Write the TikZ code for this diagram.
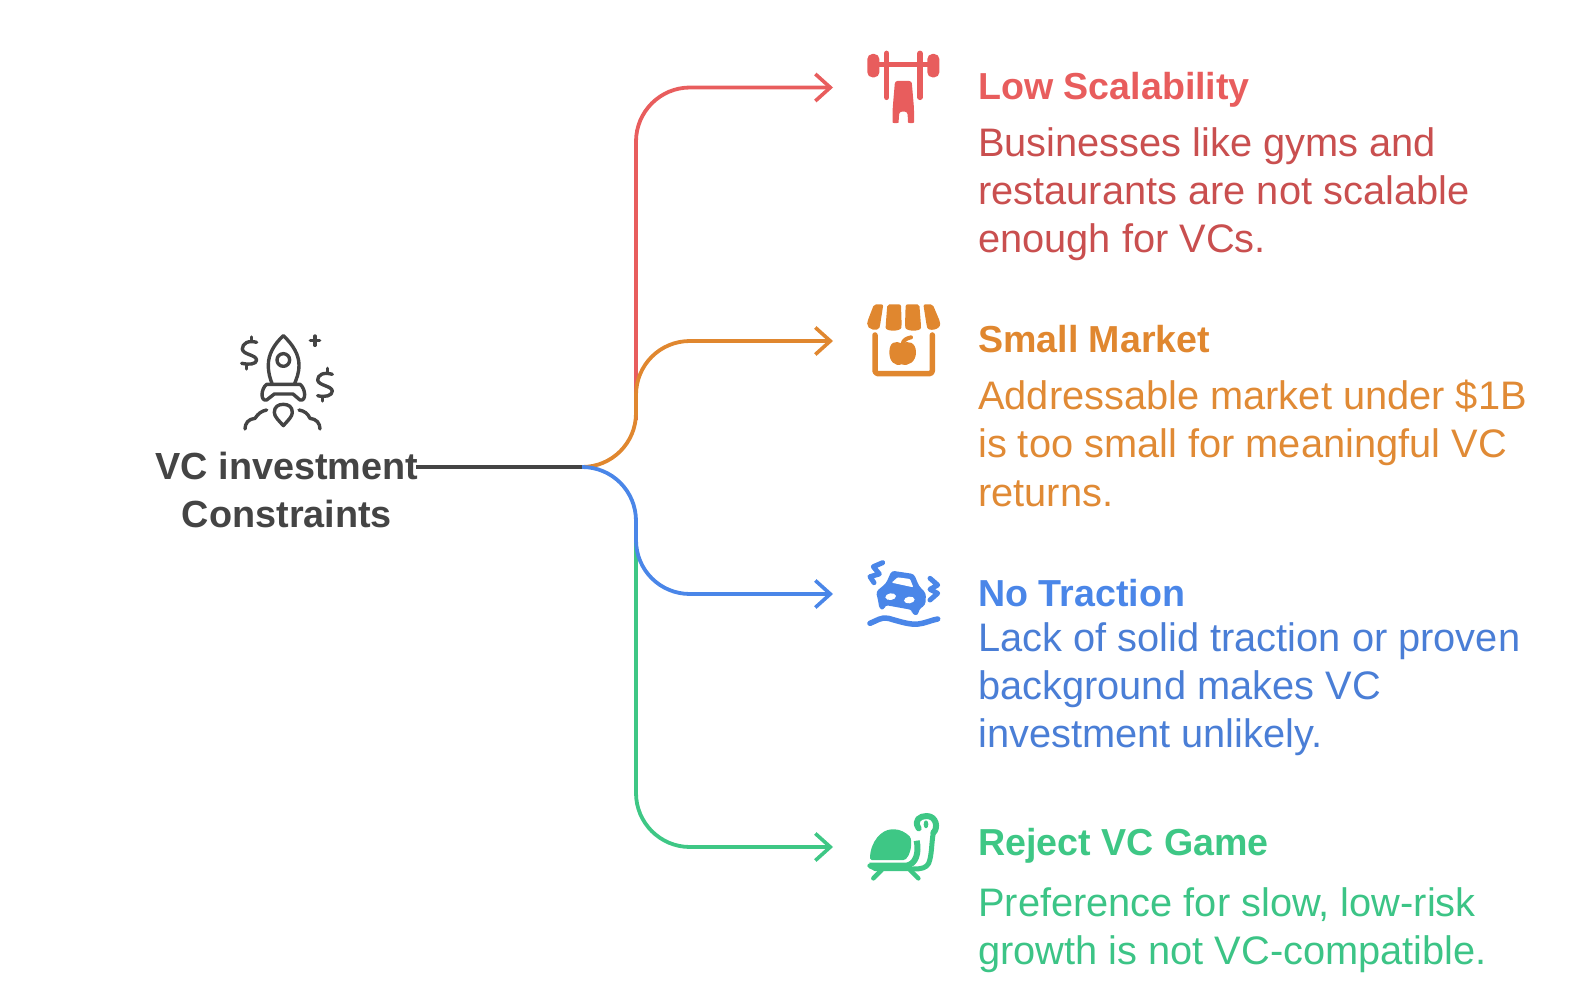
\documentclass[tikz,border=0pt]{standalone}
\usepackage{fontspec}
\setmainfont{Liberation Sans}
\usetikzlibrary{arrows.meta,calc}
\definecolor{cred}{HTML}{E85D5D}\definecolor{credd}{HTML}{C94F4F}
\definecolor{corg}{HTML}{E0872F}\definecolor{corgd}{HTML}{E08A35}
\definecolor{cblu}{HTML}{4A86E8}\definecolor{cblud}{HTML}{4A7ED6}
\definecolor{cgrn}{HTML}{3EC785}\definecolor{cgrnd}{HTML}{3CC486}
\definecolor{cdark}{HTML}{444444}
\newcommand{\tf}{\fontsize{37.6}{46}\selectfont\bfseries}
\newcommand{\df}{\fontsize{39.8}{48.2}\selectfont}
\tikzset{
 conn/.style={line width=3.8pt,rounded corners=54pt},
 tipped/.style={-{Straight Barb[length=15pt,width=27pt,line width=3.6pt]}},
 ttl/.style={anchor=base west,inner sep=0pt,font=\tf},
 dsc/.style={anchor=north west,inner sep=0pt,align=left,font=\df},
 ic/.style={line cap=round,line join=round},
 zoomA/.style={x=0.3333pt,y=-0.3333pt}
}
\begin{document}
\begin{tikzpicture}[x=1pt,y=-1pt]
\useasboundingbox (0,0) rectangle (1578,984);
% nodes
\node[align=center,inner sep=0pt,text=cdark,font=\fontsize{37.8}{48.5}\selectfont\bfseries,anchor=center] (root) at (287,490) {VC investment\\Constraints};
\coordinate (rs) at (416,467);
\coordinate (j) at (582,467);
\coordinate (e1) at (833,87.5);
\coordinate (e2) at (833,341);
\coordinate (e3) at (833,594);
\coordinate (e4) at (833,847);
\draw[cred,conn,tipped] (636,420) -- (636,87.5) -- (e1);
\draw[cgrn,conn,tipped] (636,530) -- (636,847) -- (e4);
\draw[corg,line width=3.8pt,tipped] (j) .. controls (612,467) and (636,443) .. (636,413) -- (636,395) .. controls (636,365) and (660,341) .. (690,341) -- (e2);
\draw[cblu,line width=3.8pt,tipped] (j) .. controls (612,467) and (636,491) .. (636,521) -- (636,540) .. controls (636,570) and (660,594) .. (690,594) -- (e3);
\draw[cdark,line width=3.8pt] (rs) -- (j);
% text
\node[ttl,text=cred] (t1) at (978,100) {Low Scalability};
\node[dsc,text=credd] (d1) at (978,127) {Businesses like gyms and\\restaurants are not scalable\\enough for VCs.};
\node[ttl,text=corg] (t2) at (978,352) {Small Market};
\node[dsc,text=corgd] (d2) at (978,380) {Addressable market under \$1B\\is too small for meaningful VC\\returns.};
\node[ttl,text=cblu] (t3) at (978,606) {No Traction};
\node[dsc,text=cblud] (d3) at (978,622) {Lack of solid traction or proven\\background makes VC\\investment unlikely.};
\node[ttl,text=cgrn] (t4) at (978,855) {Reject VC Game};
\node[dsc,text=cgrnd] (d4) at (978,887) {Preference for slow, low-risk\\growth is not VC-compatible.};
% barbell
\begin{scope}[xshift=850pt,yshift=-40pt,zoomA,ic]
\fill[cred,rounded corners=5pt] (52,42) rectangle (88,112);
\fill[cred,rounded corners=5pt] (232,42) rectangle (268,112);
\draw[cred,line width=5.5pt] (110,40) -- (110,172);
\draw[cred,line width=5.5pt] (210,40) -- (210,172);
\draw[cred,line width=5pt] (88,75) -- (232,75);
\fill[cred,rounded corners=2.5pt] (135,123) -- (185,123) -- (192,205) -- (192,240) .. controls (192,250) and (174,250) .. (174,240) -- (172,215) -- (148,215) -- (146,240) .. controls (146,250) and (128,250) .. (128,240) -- (128,205) -- cycle;
\end{scope}
% store
\begin{scope}[xshift=850pt,yshift=-295pt,zoomA,ic]
\fill[corg,rounded corners=2pt] (72,28) -- (100,28) -- (90,92) .. controls (85,110) and (50,105) .. (52,80) -- cycle;
\fill[corg,rounded corners=2pt] (112,28) -- (153,28) -- (155,92) .. controls (152,110) and (107,110) .. (107,92) -- cycle;
\fill[corg,rounded corners=2pt] (167,28) -- (208,28) -- (213,92) .. controls (213,110) and (168,110) .. (165,92) -- cycle;
\fill[corg,rounded corners=2pt] (220,28) -- (248,28) -- (270,80) .. controls (272,105) and (235,110) .. (230,92) -- cycle;
\draw[corg,line width=5.5pt,rounded corners=3pt] (75,120) -- (75,236) -- (247,236) -- (247,120);
\fill[corg] (155,146) .. controls (175,135) and (198,142) .. (198,172) .. controls (198,200) and (175,215) .. (155,208) .. controls (135,215) and (118,200) .. (118,172) .. controls (118,142) and (135,135) .. (155,146) -- cycle;
\draw[corg,line width=4pt] (158,146) .. controls (160,135) and (170,130) .. (183,127);
\end{scope}
% car
\begin{scope}[xshift=850pt,yshift=-550pt,zoomA,ic]
\draw[cblu,line width=5pt] (98,38) -- (70,50) -- (88,72) -- (60,80) -- (72,98);
\draw[cblu,line width=5pt] (240,85) -- (263,105) -- (240,118) -- (263,130) -- (240,150);
\draw[cblu,line width=5.5pt] (60,220) .. controls (80,212) and (95,200) .. (115,205) .. controls (150,215) and (180,225) .. (205,222) .. controls (225,220) and (245,210) .. (263,207);
\fill[cblu,rounded corners=3pt] (125,62) -- (192,72) -- (207,108) -- (228,130) -- (226,165) -- (207,178) -- (204,197) -- (186,193) -- (187,180) -- (105,165) -- (103,180) -- (88,177) -- (85,155) -- (78,125) -- (108,100) -- cycle;
\fill[white,rounded corners=1pt] (125,98) -- (143,82) -- (180,87) -- (190,112) -- cycle;
\fill[white,rotate around={8:(122,140)}] (122,140) ellipse (16 and 10);
\fill[white,rotate around={8:(178,150)}] (178,150) ellipse (16 and 10);
\end{scope}
% turtle
\begin{scope}[xshift=850pt,yshift=-800pt,zoomA,ic]
\fill[cgrn,rounded corners=1.5pt] (60,180) .. controls (60,125) and (95,88) .. (130,88) .. controls (150,88) and (168,98) .. (182,112) .. controls (186,140) and (180,165) .. (165,180) -- cycle;
\draw[cgrn,line width=6pt,line cap=butt] (58,197) -- (170,197) .. controls (197,192) and (208,160) .. (200,122);
\draw[cgrn,line width=6pt] (206,85) .. controls (190,60) and (210,48) .. (230,48) .. controls (260,48) and (265,85) .. (250,98);
\draw[cgrn,line width=5pt] (250,98) .. controls (244,130) and (246,165) .. (236,190) .. controls (228,204) and (215,207) .. (190,207);
\fill[cgrn] (228,73) ellipse (7 and 12);
\draw[cgrn,line width=4.5pt] (95,210) -- (70,235);
\draw[cgrn,line width=4.5pt] (180,210) -- (205,235);
\draw[cgrn,line width=4pt] (58,197) -- (75,207) -- (190,207);
\end{scope}
% rocket
\begin{scope}[xshift=225pt,yshift=-325pt,zoomA,ic,cdark,line width=3.4pt]
\draw (175,32) .. controls (145,60) and (130,90) .. (130,120) .. controls (130,145) and (135,160) .. (142,178) -- (208,178) .. controls (215,160) and (222,145) .. (222,120) .. controls (222,90) and (205,60) .. (175,32) -- cycle;
\draw (175,105) circle (19);
\draw (142,178) -- (125,178) .. controls (108,190) and (105,230) .. (125,225) -- (148,207) -- (204,207) -- (225,225) .. controls (245,230) and (242,190) .. (225,178) -- (208,178);
\draw (175,302) .. controls (160,285) and (148,275) .. (148,262) .. controls (148,245) and (160,238) .. (175,238) .. controls (190,238) and (202,245) .. (202,262) .. controls (202,275) and (190,285) .. (175,302) -- cycle;
\draw (60,312) .. controls (60,295) and (70,282) .. (90,280) .. controls (100,265) and (110,258) .. (125,255);
\draw (285,312) .. controls (285,295) and (275,282) .. (255,280) .. controls (248,265) and (238,258) .. (222,255);
\draw (95,52) .. controls (70,45) and (52,55) .. (52,72) .. controls (54,90) and (92,88) .. (95,105) .. controls (95,118) and (70,120) .. (50,115);
\draw (80,36) -- (80,45) (65,122) -- (65,132);
\draw (322,148) .. controls (295,140) and (278,150) .. (278,165) .. controls (280,182) and (320,182) .. (322,198) .. controls (322,212) and (300,218) .. (278,212);
\draw (308,130) -- (308,140) (292,218) -- (292,228);
\draw (270,33) -- (270,61) (256,47) -- (284,47);
\end{scope}
\end{tikzpicture}
\end{document}
